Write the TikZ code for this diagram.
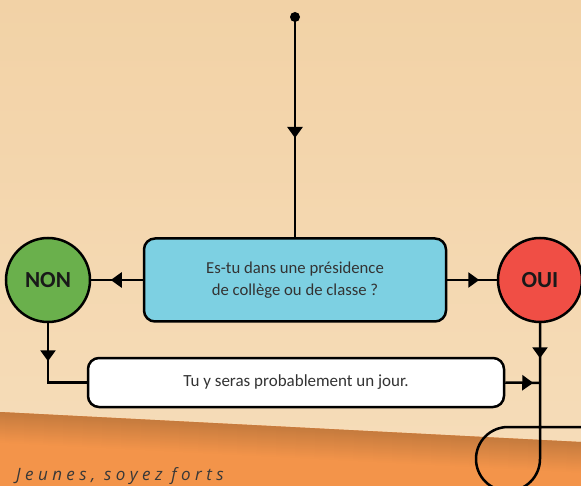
\documentclass[tikz,border=0pt]{standalone}
\usepackage{fontspec}
\setmainfont{Carlito}
\newfontfamily\tagfont[LetterSpace=26]{Open Sans}
\usetikzlibrary{arrows.meta,decorations.markings}
\definecolor{paper}{HTML}{F2D2A6}
\definecolor{paperlight}{HTML}{F6DDBA}
\definecolor{orangeband}{HTML}{F3944A}
\definecolor{orangedark}{HTML}{C57B3E}
\definecolor{qblue}{HTML}{7DD0E2}
\definecolor{nongreen}{HTML}{6AB04C}
\definecolor{ouired}{HTML}{F04E45}
\definecolor{txtgray}{HTML}{333333}
\tikzset{
  link/.style={line width=2.5pt, draw=black},
  midarrow/.style={postaction={decorate},
    decoration={markings, mark=at position #1 with {\arrow{Triangle[length=11pt,width=15pt]}}}},
  qbox/.style={draw=black, line width=2.5pt, fill=qblue, rounded corners=11pt,
    minimum width=302pt, minimum height=83pt, text=txtgray, align=center,
    font=\fontsize{16.7}{22}\selectfont},
  tbox/.style={draw=black, line width=2.5pt, fill=white, rounded corners=11pt,
    minimum width=416pt, minimum height=49pt, text=txtgray,
    font=\fontsize{17}{20}\selectfont},
  answer/.style={circle, draw=black, line width=2.5pt, minimum size=84pt, inner sep=0pt,
    text=black!90, font=\bfseries\fontsize{23}{26}\selectfont}
}
\begin{document}
\begin{tikzpicture}[x=1pt,y=-1pt]
\useasboundingbox (0,0) rectangle (581,486);
% background
\shade[top color=paper, bottom color=paperlight] (0,0) rectangle (581,486);
\fill[orangeband] (0,412) -- (581,442) -- (581,486) -- (0,486) -- cycle;
\foreach \i in {0,...,29} {
  \pgfmathsetmacro{\mix}{100-3.3*\i}
  \fill[orangedark!\mix!orangeband] (0,412+\i) -- (581,442+\i) -- (581,443.5+\i) -- (0,413.5+\i) -- cycle;
}
% nodes
\coordinate (start) at (295,17);
\node[qbox] (q) at (295,280) {Es-tu dans une présidence\\de collège ou de classe ?};
\node[answer, fill=nongreen] (non) at (48,280) {NON};
\node[answer, fill=ouired] (oui) at (540,280) {OUI};
\node[tbox] (t) at (296,382.5) {Tu y seras probablement un jour.};
\coordinate (j) at (540,383);
\coordinate (lp) at (540,459);
\coordinate (exit) at (581,427);
% connectors
\fill (start) circle (5pt);
\draw[link, midarrow=121pt] (start) -- (q.north);
\draw[link, midarrow=32pt] (q.west) -- (non.east);
\draw[link, midarrow=32pt] (q.east) -- (oui.east -| oui.west);
\draw[link, midarrow=38pt] (non.south) -- (non.south |- t.west) -- (t.west);
\draw[link, midarrow=28pt] (t.east) -- (j);
\draw[link, midarrow=35pt] (oui.south) -- (lp) arc[start angle=0, end angle=-270, radius=32pt] -- (exit);
% tagline
\node[anchor=base west, inner sep=0pt, text=black!78, font=\tagfont\itshape\fontsize{17}{19}\selectfont] (tag) at (16,480.5) {Jeunes, soyez forts};
\end{tikzpicture}
\end{document}
